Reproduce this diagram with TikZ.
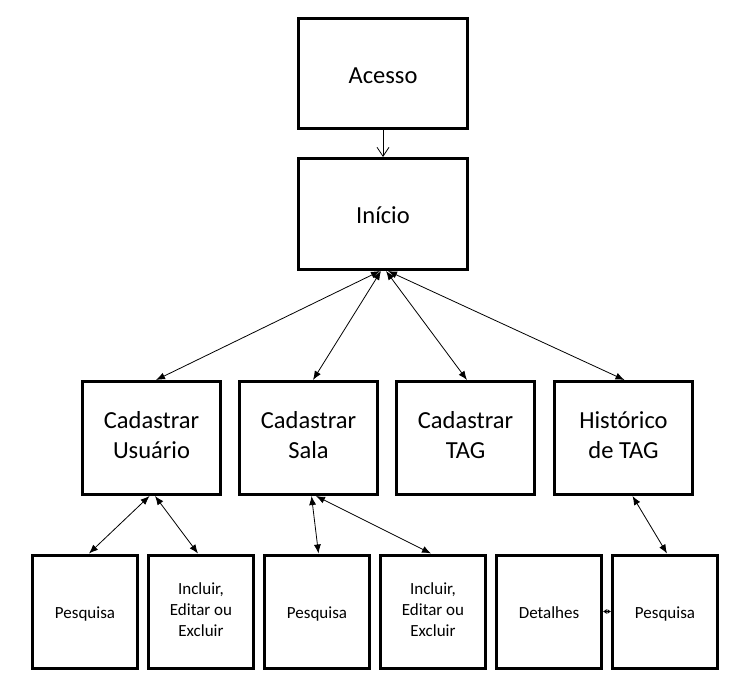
\documentclass[tikz,border=0pt]{standalone}
\usepackage{fontspec}
\setmainfont{Carlito}
\usetikzlibrary{arrows.meta, positioning}

\newcommand\escora{\rule[-0.17\baselineskip]{0pt}{\baselineskip}}

\tikzset{
  caixa/.style={draw, line width=3pt, align=center,
    execute at begin node=\escora, execute at end node=\escora},
  tela/.style={caixa, minimum width=169pt, minimum height=110pt,
    font=\fontsize{24.5}{30}\selectfont},
  modulo/.style={caixa, minimum width=138pt, minimum height=113pt,
    font=\fontsize{24.5}{30}\selectfont},
  acao/.style={caixa, minimum width=105pt, minimum height=113pt,
    font=\fontsize{17}{20.7}\selectfont},
  abre/.style={line width=0.8pt, -{Straight Barb[length=9pt,width=12pt]}},
  liga/.style={line width=0.8pt, {Latex[length=9pt,width=7pt]}-{Latex[length=9pt,width=7pt]}},
  curta/.style={line width=0.8pt, {Latex[length=3.5pt,width=5pt]}-{Latex[length=3.5pt,width=5pt]}},
}

\begin{document}
\begin{tikzpicture}[x=1pt, y=-1pt]
        \useasboundingbox (0,0) rectangle (742,684);

        % telas principais
        \node[tela] (acesso) at (383,73.5) {Acesso};
        \node[tela, minimum height=111pt] (inicio) [below=27pt of acesso] {Início};

        % modulos
        \node[modulo] (cadUsuario) at (151.5,438) {Cadastrar\\Usuário};
        \node[modulo] (cadSala) [right=16pt of cadUsuario] {Cadastrar\\Sala};
        \node[modulo] (cadTag) [right=16pt of cadSala] {Cadastrar\\TAG};
        \node[modulo] (histTag) [right=17pt of cadTag] {Histórico\\de TAG};

        % acoes
        \node[acao] (pesqUsuario) at (85,611.5) {Pesquisa};
        \node[acao] (editUsuario) [right=8pt of pesqUsuario] {Incluir,\\Editar ou\\Excluir};
        \node[acao] (pesqSala) [right=8pt of editUsuario] {Pesquisa};
        \node[acao] (editSala) [right=8pt of pesqSala] {Incluir,\\Editar ou\\Excluir};
        \node[acao] (detalhes) [right=8pt of editSala] {Detalhes};
        \node[acao] (pesqTag) [right=8pt of detalhes] {Pesquisa};

        \draw[abre] (acesso) -- (inicio);

        \draw[liga] ([xshift=-3pt]inicio.south) -- ([xshift=4.5pt]cadUsuario.north);
        \draw[liga] ([xshift=-2pt]inicio.south) -- ([xshift=4.5pt]cadSala.north);
        \draw[liga] ([xshift=3pt]inicio.south) -- ([xshift=1.5pt]cadTag.north);
        \draw[liga] ([xshift=5pt]inicio.south) -- ([xshift=1pt]histTag.north);

        \draw[liga] ([xshift=-2pt]cadUsuario.south) -- ([xshift=4pt]pesqUsuario.north);
        \draw[liga] ([xshift=3.5pt]cadUsuario.south) -- ([xshift=-3pt]editUsuario.north);
        \draw[liga] ([xshift=3pt]cadSala.south) -- ([xshift=1.5pt]pesqSala.north);
        \draw[liga] ([xshift=7.5pt]cadSala.south) -- ([xshift=-2pt]editSala.north);
        \draw[liga] ([xshift=9pt]histTag.south) -- ([xshift=2pt]pesqTag.north);
        \draw[curta] (detalhes) -- (pesqTag);

\end{tikzpicture}
\end{document}
